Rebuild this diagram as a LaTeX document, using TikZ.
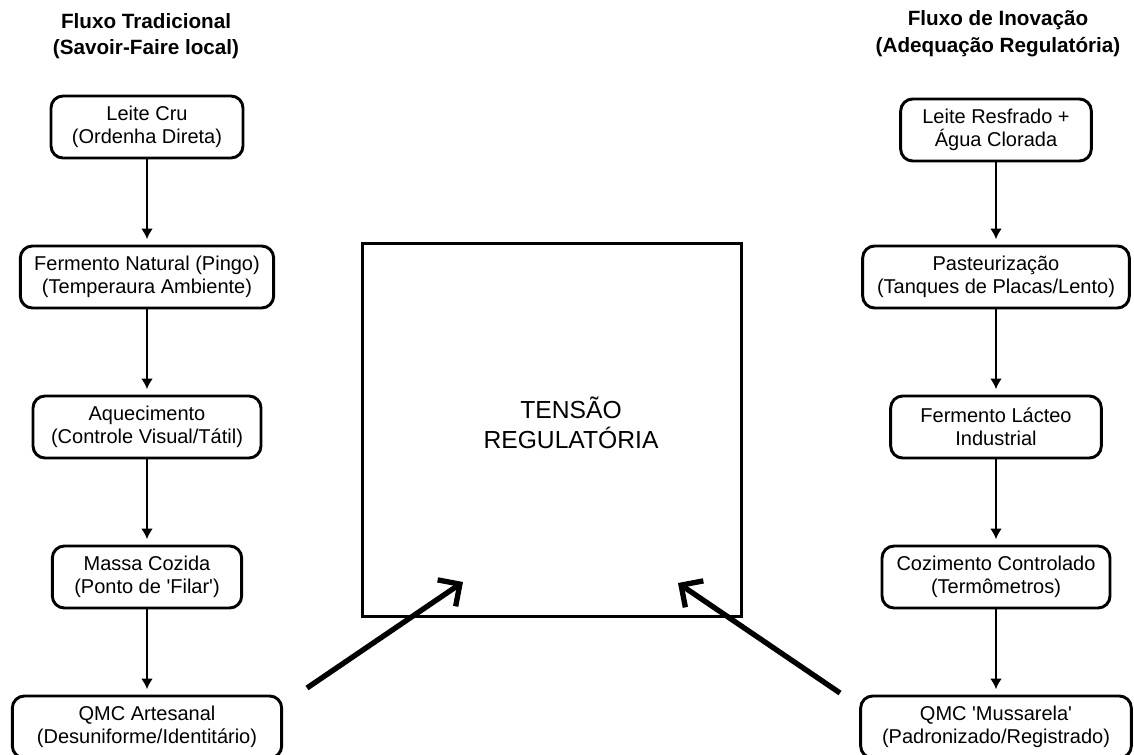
\documentclass[tikz,border=0pt]{standalone}
\usepackage{fontspec}
\setmainfont{Liberation Sans}
\usetikzlibrary{shapes,arrows,arrows.meta}

\begin{document}
\begin{tikzpicture}[x=0.75pt,y=-0.75pt]
\useasboundingbox (0,0) rectangle (1134,755);
\tikzstyle{every node} = [align=center, font=\fontsize{15}{17}\selectfont]
\tikzstyle{etapa} = [draw, line width=2.2pt, rounded corners=9pt, minimum height=46.5pt, inner xsep=3pt]
\tikzstyle{titulo} = [font=\bfseries\fontsize{15.5}{20}\selectfont]
\tikzstyle{seta} = [-{Latex[length=8pt,width=9pt]}, line width=1.6pt, shorten >=4pt]
\tikzstyle{setagrossa} = [-{Straight Barb[length=12pt,width=24pt]}, line width=4pt]

\node [titulo] (t1) at (146, 36) {Fluxo Tradicional\\(Savoir-Faire local)};
\node [titulo] (t2) at (998, 34) {Fluxo de Inovação\\(Adequação Regulatória)};

\node [etapa, minimum width=144pt] (a) at (147, 127) {Leite Cru\\(Ordenha Direta)};
\node [etapa, minimum width=190pt] (b) at (147, 277) {Fermento Natural (Pingo)\\(Temperaura Ambiente)};
\node [etapa, minimum width=171pt] (c) at (147, 427) {Aquecimento\\(Controle Visual/Tátil)};
\node [etapa, minimum width=142pt] (d) at (147, 577) {Massa Cozida\\(Ponto de \textquotesingle Filar\textquotesingle)};
\node [etapa, minimum width=202pt] (e) at (147, 727) {QMC Artesanal\\(Desuniforme/Identitário)};
\draw [seta] (a) to (b);
\draw [seta] (b) to (c);
\draw [seta] (c) to (d);
\draw [seta] (d) to (e);

\node [etapa, minimum width=143pt] (a2) at (996, 130) {Leite Resfrado +\\Água Clorada};
\node [etapa, minimum width=200pt] (b2) at (996, 277) {Pasteurização\\(Tanques de Placas/Lento)};
\node [etapa, minimum width=158pt] (c2) at (996, 427) {Fermento Lácteo\\Industrial};
\node [etapa, minimum width=171pt] (d2) at (996, 577) {Cozimento Controlado\\(Termômetros)};
\node [etapa, minimum width=203pt] (e2) at (996, 727) {QMC \textquotesingle Mussarela\textquotesingle\\(Padronizado/Registrado)};
\draw [seta] (a2) to (b2);
\draw [seta] (b2) to (c2);
\draw [seta] (c2) to (d2);
\draw [seta] (d2) to (e2);

\node [draw, line width=2.2pt, minimum width=284pt, minimum height=280pt] (t) at (552, 430) {};
\node [font=\fontsize{18.5}{22.5}\selectfont] (tt) at (571, 423) {TENSÃO\\REGULATÓRIA};

\coordinate (s1) at (307, 688);
\coordinate (f1) at (463, 582);
\coordinate (s2) at (840, 693);
\coordinate (f2) at (678, 583);
\draw [setagrossa] (s1) to (f1);
\draw [setagrossa] (s2) to (f2);
\end{tikzpicture}
\end{document}
